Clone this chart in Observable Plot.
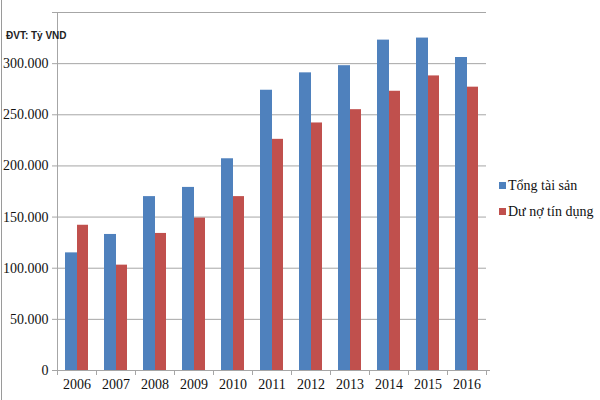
<!DOCTYPE html>
<html>
<head>
<meta charset="utf-8">
<script src="https://cdn.jsdelivr.net/npm/d3@7"></script>
<script src="https://cdn.jsdelivr.net/npm/@observablehq/plot@0.6"></script>
<style>
  body { margin: 0; background: #fff; }
  #wrap { position: relative; width: 600px; height: 400px; overflow: hidden; }
  #wrap::before { content: ""; position: absolute; left: 1px; top: 0; width: 1px; height: 400px; background: #9a9a9a; }
  .unit { position: absolute; left: 6px; top: 30px; font: bold 10px "Liberation Sans", Arial, sans-serif; color: #222; }
  .legend { position: absolute; left: 499px; font-size: 14px; font-family: "Liberation Serif", "DejaVu Serif", "Times New Roman", serif; color: #111; white-space: nowrap; }
  .legend span.sw { display: inline-block; width: 7px; height: 7px; margin-right: 2px; vertical-align: 1px; }
  svg text { font-family: "Liberation Serif", "DejaVu Serif", "Times New Roman", serif; }
</style>
</head>
<body>
<div id="wrap"></div>
<script>
const years = ["2006","2007","2008","2009","2010","2011","2012","2013","2014","2015","2016"];
const tongTaiSan = [115000,133000,170000,179000,207000,274000,291000,298000,323000,325000,306000];
const duNoTinDung = [142000,103000,134000,149000,170000,226000,242000,255000,273000,288000,277000];
const seriesNames = ["Tổng tài sản", "Dư nợ tín dụng"];
const colors = ["#4F81BD", "#C0504D"];
const yTicks = [0,50000,100000,150000,200000,250000,300000,350000];

const blue = years.map((y, i) => ({year: y, value: tongTaiSan[i]}));
const red = years.map((y, i) => ({year: y, value: duNoTinDung[i]}));
const fmt = d => d === 350000 ? "" : (d === 0 ? "0" : d3.format(",")(d).replace(/,/g, "."));

const chart = Plot.plot({
  width: 600,
  height: 400,
  marginLeft: 57,
  marginRight: 114,
  marginTop: 12,
  marginBottom: 30,
  style: {fontSize: "14px", color: "#111", background: "transparent"},
  x: {domain: years, padding: 0, label: null},
  y: {domain: [0, 350000], label: null},
  marks: [
    Plot.gridY(yTicks, {stroke: "#a6a6a6", strokeOpacity: 1, strokeWidth: 1}),
    Plot.ruleX([years[0]], {dx: -19.5, stroke: "#a6a6a6", y1: 0, y2: 350000}),
    Plot.barY(blue, {x: "year", y: "value", fill: colors[0], insetLeft: 8, insetRight: 19}),
    Plot.barY(red, {x: "year", y: "value", fill: colors[1], insetLeft: 20, insetRight: 8}),
    Plot.ruleY([0], {stroke: "#a6a6a6", insetRight: -4}),
    Plot.axisY(yTicks, {tickSize: 5, tickPadding: 4, tickFormat: fmt, stroke: "#a6a6a6", fontSize: 14, fill: "#111"}),
    Plot.axisX({tickSize: 5, dx: -19.5, tickFormat: () => "", stroke: "#a6a6a6"}),
    Plot.ruleX([years[years.length - 1]], {dx: 19.5, y1: 0, y2: 0, insetBottom: -5, stroke: "#a6a6a6"}),
    Plot.axisX({tickSize: 0, tickPadding: 9, fontSize: 14, fill: "#111"})
  ]
});

const wrap = document.getElementById("wrap");
wrap.appendChild(chart);
chart.style.position = "absolute";
chart.style.left = "0";
chart.style.top = "0";

const unit = document.createElement("div");
unit.className = "unit";
unit.textContent = "ĐVT: Tỷ VND";
wrap.appendChild(unit);

seriesNames.forEach((name, i) => {
  const d = document.createElement("div");
  d.className = "legend";
  d.style.top = (178 + i * 26) + "px";
  const sw = document.createElement("span");
  sw.className = "sw";
  sw.style.background = colors[i];
  d.appendChild(sw);
  d.appendChild(document.createTextNode(name));
  wrap.appendChild(d);
});
</script>
</body>
</html>
